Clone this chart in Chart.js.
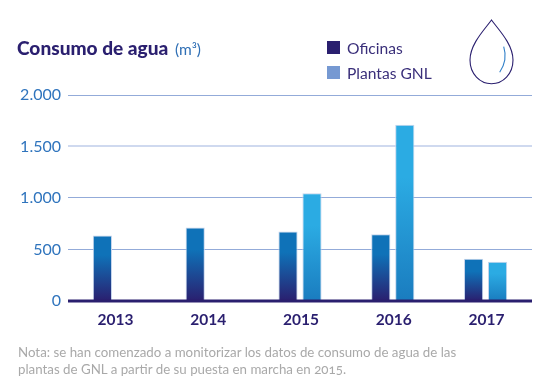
<!DOCTYPE html>
<html lang="es">
<head>
  <meta charset="UTF-8">
  <title>Consumo de agua</title>
  <script src="https://cdn.jsdelivr.net/npm/chart.js"></script>
  <style>
    html, body { margin: 0; padding: 0; background: #fff; }
    body { width: 556px; height: 391px; position: relative; overflow: hidden; font-family: Lato, sans-serif; }
    canvas { position: absolute; left: 0; top: 0; }
    .txt { position: absolute; white-space: nowrap; }
    #title { left: 17px; top: 36px; font-size: 19.1px; font-weight: 900; color: #2a1f6f; }
    #title span { font-size: 15.5px; font-weight: 400; color: #2f6fb5; margin-left: 2px; }
    .sw { position: absolute; left: 327px; width: 13px; height: 13px; }
    .leg { left: 347px; font-size: 15.6px; color: #3a2f7a; }
    #note { left: 18px; top: 344px; font-size: 13.3px; line-height: 16.5px; color: #a9a9a9; font-feature-settings: "onum"; }
    svg { position: absolute; left: 468px; top: 19px; }
  </style>
</head>
<body>

<canvas id="waterChart" width="556" height="391"></canvas>

<div class="txt" id="title">Consumo de agua <span>(m³)</span></div>
<div class="sw" style="top:41px;background:#2a1f6f"></div>
<div class="txt leg" style="top:39px">Oficinas</div>
<div class="sw" style="top:66px;background:#7699d2"></div>
<div class="txt leg" style="top:64px">Plantas GNL</div>
<div class="txt" id="note">Nota: se han comenzado a monitorizar los datos de consumo de agua de las<br>plantas de GNL a partir de su puesta en marcha en 2015.</div>

<svg width="48" height="70" viewBox="0 0 48 70">
  <path d="M23.5 1 C17 10 2 25 2 41 C2 55 12 64.7 23.5 64.7 C35 64.7 45 55 45 41 C45 25 30 10 23.5 1 Z" fill="none" stroke="#2a1f6f" stroke-width="1.1"/>
  <path d="M35.7 27.7 C38 35 38 44 31.7 53.3" fill="none" stroke="#2f7fc8" stroke-width="1.1"/>
</svg>

<script>
  const years = ['2013', '2014', '2015', '2016', '2017'];
  const oficinas = [635, 712, 675, 648, 410];
  const plantasGNL = [null, null, 1045, 1710, 380];
  const yTicks = [0, 500, 1000, 1500, 2000];

  // degradado de cada barra, desde su tope hasta el eje
  function barGradient(ctx, top, bottom) {
    const area = ctx.chart.chartArea;
    if (!area || ctx.raw == null) return top;
    const y0 = ctx.chart.scales.y.getPixelForValue(ctx.raw);
    const g = ctx.chart.ctx.createLinearGradient(0, y0, 0, area.bottom);
    g.addColorStop(0, top);
    g.addColorStop(0.3, top);
    g.addColorStop(1, bottom);
    return g;
  }

  const baseLine = {
    id: 'baseLine',
    afterDatasetsDraw(chart) {
      const c = chart.ctx, a = chart.chartArea, y = chart.scales.y.getPixelForValue(0);
      c.save();
      c.strokeStyle = '#2a1f6f';
      c.lineWidth = 3;
      c.beginPath();
      c.moveTo(a.left, y);
      c.lineTo(a.right, y);
      c.stroke();
      c.restore();
    }
  };

  new Chart(document.getElementById('waterChart'), {
    type: 'bar',
    data: {
      labels: years,
      datasets: [
        {
          label: 'Oficinas',
          data: oficinas,
          backgroundColor: ctx => barGradient(ctx, '#0f72b8', '#2a1f6f'),
          borderColor: '#c5d4ec',
          borderWidth: { top: 1, left: 1, right: 1, bottom: 0 }
        },
        {
          label: 'Plantas GNL',
          data: plantasGNL,
          backgroundColor: ctx => barGradient(ctx, '#2babe3', '#1a7cbf'),
          borderColor: '#c5d4ec',
          borderWidth: { top: 1, left: 1, right: 1, bottom: 0 }
        }
      ]
    },
    options: {
      responsive: false,
      animation: false,
      categoryPercentage: 0.517,
      barPercentage: 0.8,
      layout: { padding: { left: 0, right: 24, top: 95, bottom: 59.5 } },
      plugins: { legend: { display: false }, tooltip: { enabled: false } },
      scales: {
        x: {
          grid: { display: false },
          border: { display: false },
          ticks: { color: '#2a1f6f', labelOffset: 1, font: { family: 'Lato', size: 15.5, weight: 'bold' }, padding: 2 }
        },
        y: {
          min: 0,
          max: 2000,
          afterBuildTicks: axis => { axis.ticks = yTicks.map(v => ({ value: v })); },
          afterFit: axis => { axis.width = 68; },
          grid: {
            color: ctx => ctx.tick && ctx.tick.value === 1500 ? '#cfd9ef' : '#93abd9',
            lineWidth: ctx => ctx.tick && ctx.tick.value === 1500 ? 2 : 1,
            drawTicks: false
          },
          border: { display: false },
          ticks: {
            color: '#2f74bd',
            font: { family: 'Lato', size: 16 },
            padding: 7,
            callback: v => v.toLocaleString('de-DE')
          }
        }
      }
    },
    plugins: [baseLine]
  });
</script>

</body>
</html>
